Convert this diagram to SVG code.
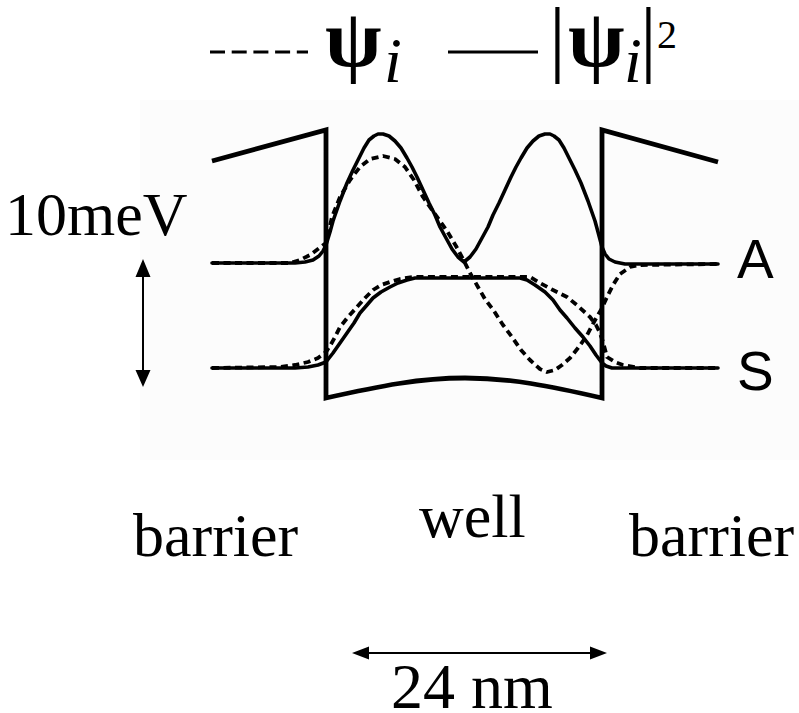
<svg xmlns="http://www.w3.org/2000/svg" width="799" height="713" viewBox="0 0 799 713">
<style>
.serif{font-family:"Liberation Serif","Times New Roman",serif;fill:#000}
.sans{font-family:"Liberation Sans",Arial,sans-serif;fill:#000}
.psi{font-family:"Liberation Serif","Times New Roman",serif;font-weight:bold;font-size:82px;fill:#000}
.band{fill:none;stroke:#000;stroke-width:4.8;stroke-linejoin:miter}
.sol{fill:none;stroke:#000;stroke-width:3.6;stroke-linejoin:round;stroke-linecap:round}
.dash{fill:none;stroke:#000;stroke-width:3.8;stroke-dasharray:7 4.5;stroke-linejoin:round}
.arr{stroke:#000;stroke-width:2}
</style>
<rect width="799" height="713" fill="#fff"/>
<rect x="140" y="100" width="659" height="360" fill="#fcfcfc"/>

<g id="legend">
<line x1="210" y1="52" x2="308" y2="52" stroke="#000" stroke-width="3" stroke-dasharray="15 6.7"/>
<text class="psi" x="325" y="66">ψ</text>
<text class="serif" x="384" y="82" font-size="64" font-style="italic">i</text>
<line x1="448" y1="52" x2="538" y2="52" stroke="#000" stroke-width="3"/>
<text class="serif" x="549" y="66" font-size="84">|</text>
<text class="psi" x="568" y="66">ψ</text>
<text class="serif" x="624" y="82" font-size="64" font-style="italic">i</text>
<text class="serif" x="640" y="66" font-size="84">|</text>
<text class="serif" x="657" y="48" font-size="40">2</text>
</g>

<g id="band">
<path class="band" d="M212,161 L326,130 L326,398 C380,386 420,378 465,378 C510,378 550,386 602,398 L602,130 L718,162"/>
</g>

<g id="state-A">
<path class="sol" d="M212,263 L295,263 L305,262 L313,260 L319,256 L323,251 L326,245 L330,232 L333,221 L340,201 L347,183 L353,170 L359,158 L364,148 L369,140 L374,136 L378,134 L383,134 L389,136 L395,141 L401,148 L407,158 L412,167 L417,177 L423,190 L429,203 L435,215 L440,227 L446,238 L452,249 L458,257 L464,262 L470,257 L476,249 L482,238 L488,227 L493,215 L499,203 L505,190 L511,177 L516,167 L521,158 L527,148 L533,141 L539,136 L545,134 L550,134 L554,136 L559,140 L564,148 L569,158 L575,170 L581,183 L588,201 L595,221 L598,232 L602,247 L605,254 L609,259 L615,262 L625,264 L718,264"/>
<path class="dash" d="M212,263 L290,263 L300,260 L310,255 L318,249 L326,243 L332,217 L340,197 L350,180 L360,167 L370,159 L383,156 L395,159 L405,167 L414,180 L423,197 L435,214 L447,231 L456,246 L463,259 L470,273 L478,287 L485,299 L494,311 L503,325 L512,337 L521,350 L530,360 L540,369 L547,372 L555,370 L562,365 L570,358 L578,348 L586,337 L594,322 L602,308 L607,297 L613,285 L620,274 L630,267 L640,265 L718,264"/>
<text class="sans" x="737" y="278" font-size="55">A</text>
</g>

<g id="state-S">
<path class="sol" d="M212,368 L295,368 L308,367 L318,365 L326,362 L333,353 L340,343 L347,333 L354,323 L360,313 L367,305 L373,298 L381,292 L390,287 L398,283 L407,280 L415,278 L425,278 L520,278 L527,280 L535,285 L545,292 L553,300 L560,310 L567,318 L575,328 L583,337 L590,346 L596,355 L602,363 L606,366 L612,368 L718,368"/>
<path class="dash" d="M212,368 L280,367 L295,365 L308,362 L318,358 L326,352 L330,346 L335,337 L340,327 L348,317 L357,307 L365,298 L373,290 L381,285 L390,282 L400,279 L413,277 L530,277 L540,283 L553,290 L567,297 L578,306 L590,317 L596,325 L600,333 L603,342 L607,357 L615,362 L623,365 L640,368 L718,368"/>
<text class="sans" x="737" y="390" font-size="55">S</text>
</g>

<g id="connectors">
<line class="arr" x1="143" y1="275" x2="143" y2="370"/>
<path d="M143,259 L150.5,277 L135.5,277 Z M143,387 L150.5,370 L135.5,370 Z" fill="#000"/>
<line class="arr" x1="368" y1="653" x2="591" y2="653"/>
<path d="M352,653 L369,646.5 L369,659.5 Z M607,653 L590,646.5 L590,659.5 Z" fill="#000"/>
</g>

<g id="labels">
<text class="serif" x="5" y="235" font-size="62">10meV</text>
<text class="serif" x="133" y="556" font-size="62">barrier</text>
<text class="serif" x="419" y="537" font-size="62">well</text>
<text class="serif" x="629" y="556" font-size="62">barrier</text>
<text class="serif" x="391" y="708" font-size="64">24 nm</text>
</g>
</svg>
